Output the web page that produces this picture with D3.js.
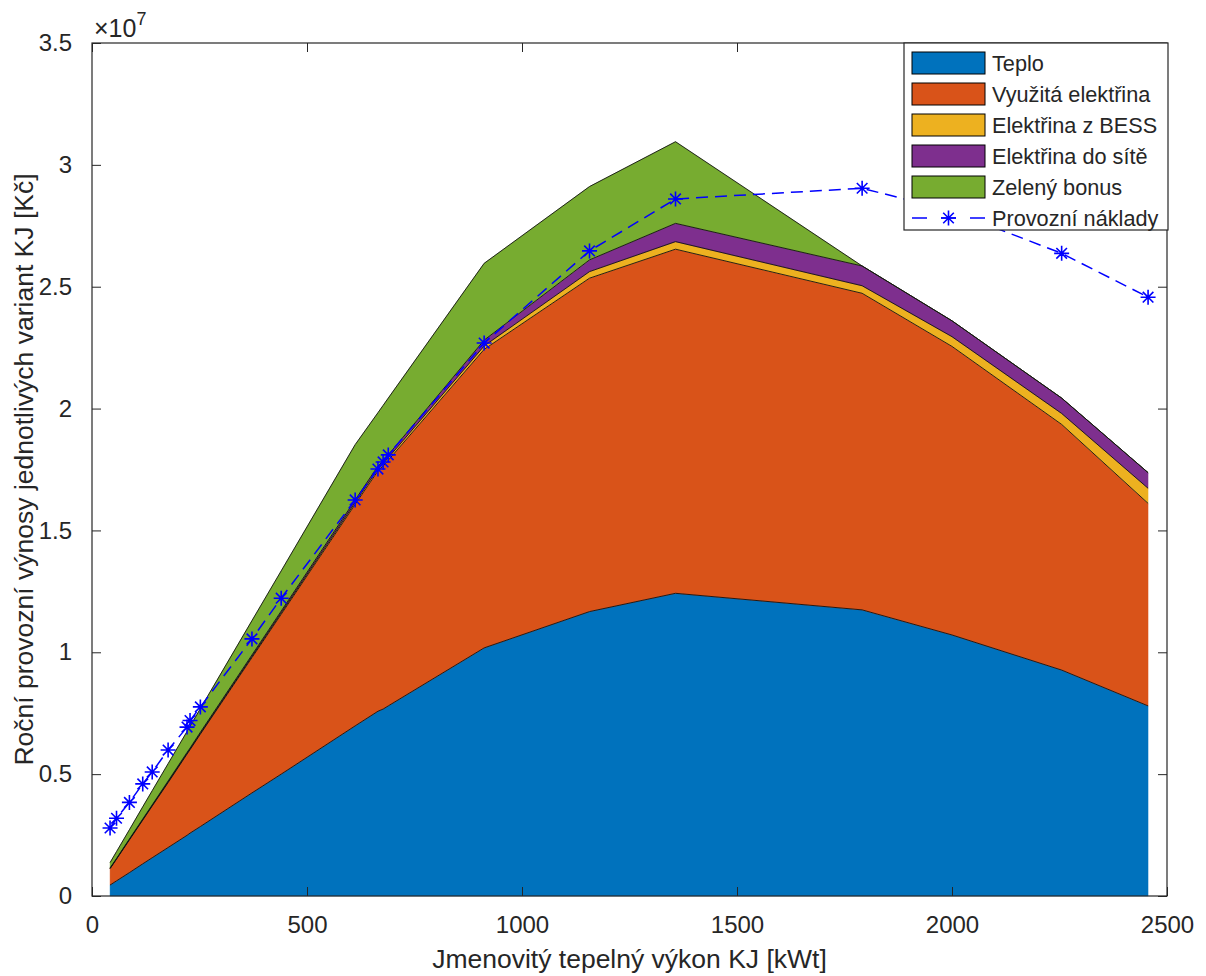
<!DOCTYPE html>
<html>
<head>
<meta charset="utf-8">
<script src="https://cdn.jsdelivr.net/npm/d3@7"></script>
<style>
  html, body { margin: 0; padding: 0; background: #fff; }
  svg { display: block; font-family: "Liberation Sans", Arial, Helvetica, sans-serif; }
</style>
</head>
<body>
<svg id="chart" width="1206" height="976"></svg>
<script>
// ---- data (Kč) ----
const vykon = [42, 57, 87, 118, 140, 177, 221, 228, 252, 372, 440, 612, 665, 677, 689, 912, 1157, 1357, 1791, 2000, 2255, 2456];
const teplo = [0.45e6, 0.62e6, 0.96e6, 1.32e6, 1.57e6, 1.99e6, 2.49e6, 2.58e6, 2.85e6, 4.23e6, 5.0e6, 6.98e6, 7.58e6, 7.67e6, 7.8e6, 10.18e6, 11.67e6, 12.42e6, 11.74e6, 10.71e6, 9.27e6, 7.8e6];
const vyuzitaElektrina = [0.67e6, 0.89e6, 1.34e6, 1.79e6, 2.12e6, 2.66e6, 3.33e6, 3.42e6, 3.79e6, 5.55e6, 6.56e6, 9.09e6, 9.86e6, 9.97e6, 10.08e6, 12.25e6, 13.68e6, 14.12e6, 12.99e6, 11.84e6, 10.08e6, 8.31e6];
const elektrinaBESS = [0.01e6, 0.01e6, 0.02e6, 0.02e6, 0.02e6, 0.03e6, 0.03e6, 0.03e6, 0.03e6, 0.05e6, 0.06e6, 0.08e6, 0.09e6, 0.09e6, 0.1e6, 0.14e6, 0.27e6, 0.31e6, 0.31e6, 0.4e6, 0.45e6, 0.62e6];
const elektrinaSit = [0.02e6, 0.02e6, 0.02e6, 0.03e6, 0.03e6, 0.04e6, 0.04e6, 0.04e6, 0.05e6, 0.06e6, 0.07e6, 0.1e6, 0.11e6, 0.12e6, 0.12e6, 0.24e6, 0.48e6, 0.75e6, 0.81e6, 0.65e6, 0.63e6, 0.64e6];
const zelenyBonus = [0.22e6, 0.28e6, 0.38e6, 0.5e6, 0.58e6, 0.71e6, 0.86e6, 0.89e6, 0.97e6, 1.41e6, 1.65e6, 2.27e6, 2.19e6, 2.28e6, 2.33e6, 3.15e6, 3.01e6, 3.35e6, 0, 0, 0, 0];
const provozniNaklady = [2.79e6, 3.19e6, 3.84e6, 4.6e6, 5.09e6, 5.99e6, 6.93e6, 7.2e6, 7.76e6, 10.55e6, 12.22e6, 16.25e6, 17.52e6, 17.81e6, 18.1e6, 22.69e6, 26.47e6, 28.6e6, 29.04e6, 28.1e6, 26.37e6, 24.57e6];

const seriesNames = ["Teplo", "Využitá elektřina", "Elektřina z BESS", "Elektřina do sítě", "Zelený bonus"];
const lineName = "Provozní náklady";
const seriesColors = ["#0072BD", "#D95319", "#EDB120", "#7E2F8E", "#77AC30"];
const xTicks = [0, 500, 1000, 1500, 2000, 2500];
const yTicks = [0, 0.5e7, 1e7, 1.5e7, 2e7, 2.5e7, 3e7, 3.5e7];
const xLabel = "Jmenovitý tepelný výkon KJ [kWt]";
const yLabel = "Roční provozní výnosy jednotlivých variant KJ [Kč]";

// ---- layout ----
const svg = d3.select("#chart");
const L = 92, R = 1167, T = 43, B = 896;
const axisColor = "#262626";

const x = d3.scaleLinear().domain([0, 2500]).range([L, R]);
const y = d3.scaleLinear().domain([0, 3.5e7]).range([B, T]);

// table for stack
const seriesArrays = [teplo, vyuzitaElektrina, elektrinaBESS, elektrinaSit, zelenyBonus];
const table = vykon.map((v, i) => {
  const row = { x: v };
  seriesNames.forEach((n, k) => row[n] = seriesArrays[k][i]);
  return row;
});
const stacked = d3.stack().keys(seriesNames)(table);

const area = d3.area()
  .x(d => x(d.data.x))
  .y0(d => y(d[0]))
  .y1(d => y(d[1]));
const topLine = d3.line()
  .x(d => x(d.data.x))
  .y(d => y(d[1]));

const gArea = svg.append("g");
gArea.selectAll("path.fill")
  .data(stacked)
  .join("path")
  .attr("class", "fill")
  .attr("d", area)
  .attr("fill", (d, i) => seriesColors[i])
  .attr("stroke", (d, i) => seriesColors[i])
  .attr("stroke-width", 0.4);
gArea.selectAll("path.edge")
  .data(stacked)
  .join("path")
  .attr("class", "edge")
  .attr("d", topLine)
  .attr("fill", "none")
  .attr("stroke", "#111")
  .attr("stroke-width", 0.9)
  .attr("stroke-linejoin", "round");

// line
const lineGen = d3.line().x((d, i) => x(vykon[i])).y(d => y(d));
svg.append("path")
  .datum(provozniNaklady)
  .attr("d", lineGen)
  .attr("fill", "none")
  .attr("stroke", "#0000FF")
  .attr("stroke-width", 1.5)
  .attr("stroke-dasharray", "12,7");

function asterisk(g, cx, cy, r) {
  const d = r * Math.SQRT1_2;
  g.append("path")
    .attr("d", `M${cx - r},${cy}L${cx + r},${cy}M${cx},${cy - r}L${cx},${cy + r}` +
      `M${cx - d},${cy - d}L${cx + d},${cy + d}M${cx - d},${cy + d}L${cx + d},${cy - d}`)
    .attr("stroke", "#0000FF")
    .attr("stroke-width", 1.6)
    .attr("fill", "none");
}
const markers = svg.append("g");
provozniNaklady.forEach((v, i) => asterisk(markers, x(vykon[i]), y(v), 7.5));

// axes box
svg.append("rect")
  .attr("x", L).attr("y", T).attr("width", R - L).attr("height", B - T)
  .attr("fill", "none").attr("stroke", axisColor).attr("stroke-width", 1.2);

const xAxisB = d3.axisBottom(x).tickValues(xTicks).tickSizeInner(-9).tickSizeOuter(0).tickPadding(20).tickFormat(d3.format("d"));
const gx = svg.append("g").attr("transform", `translate(0,${B})`).call(xAxisB);
gx.select(".domain").remove();
gx.selectAll("line").attr("stroke", axisColor);
gx.selectAll("text").attr("fill", axisColor).attr("font-size", 24).attr("font-family", "Liberation Sans, Arial, sans-serif");

const xAxisT = d3.axisTop(x).tickValues(xTicks).tickSizeInner(-9).tickSizeOuter(0).tickFormat("");
const gxt = svg.append("g").attr("transform", `translate(0,${T})`).call(xAxisT);
gxt.select(".domain").remove();
gxt.selectAll("line").attr("stroke", axisColor);

const yAxisL = d3.axisLeft(y).tickValues(yTicks).tickSizeInner(-9).tickSizeOuter(0).tickPadding(20)
  .tickFormat(d => d3.format("~g")(d / 1e7));
const gy = svg.append("g").attr("transform", `translate(${L},0)`).call(yAxisL);
gy.select(".domain").remove();
gy.selectAll("line").attr("stroke", axisColor);
gy.selectAll("text").attr("fill", axisColor).attr("font-size", 24).attr("font-family", "Liberation Sans, Arial, sans-serif");

const yAxisR = d3.axisRight(y).tickValues(yTicks).tickSizeInner(-9).tickSizeOuter(0).tickFormat("");
const gyr = svg.append("g").attr("transform", `translate(${R},0)`).call(yAxisR);
gyr.select(".domain").remove();
gyr.selectAll("line").attr("stroke", axisColor);

// exponent
const ex = svg.append("text").attr("x", 94).attr("y", 37).attr("fill", axisColor).attr("font-size", 25);
ex.append("tspan").text("×10");
ex.append("tspan").attr("dy", -12).attr("font-size", 18).text("7");

// axis labels
svg.append("text")
  .attr("x", (L + R) / 2).attr("y", 968)
  .attr("text-anchor", "middle").attr("fill", axisColor).attr("font-size", 26.5)
  .text(xLabel);
svg.append("text")
  .attr("transform", `translate(33,${(T + B) / 2}) rotate(-90)`)
  .attr("text-anchor", "middle").attr("fill", axisColor).attr("font-size", 26.5)
  .text(yLabel);

// legend
const lg = svg.append("g");
const lx = 904, ly = 43, lw = 264, lh = 187, rowH = 31;
lg.append("rect").attr("x", lx).attr("y", ly).attr("width", lw).attr("height", lh)
  .attr("fill", "#fff").attr("stroke", axisColor).attr("stroke-width", 1.2);
seriesNames.forEach((n, i) => {
  const cy = ly + 20 + i * rowH;
  lg.append("rect").attr("x", 912).attr("y", cy - 11).attr("width", 73).attr("height", 22)
    .attr("fill", seriesColors[i]).attr("stroke", "#000").attr("stroke-width", 1);
  lg.append("text").attr("x", 992).attr("y", cy).attr("dy", "0.35em")
    .attr("font-size", 21.7).attr("fill", axisColor).text(n);
});
{
  const cy = ly + 20 + 5 * rowH;
  lg.append("line").attr("x1", 912).attr("x2", 985).attr("y1", cy).attr("y2", cy)
    .attr("stroke", "#0000FF").attr("stroke-width", 1.5).attr("stroke-dasharray", "15,14");
  asterisk(lg, 948.5, cy, 7.5);
  lg.append("text").attr("x", 992).attr("y", cy).attr("dy", "0.35em")
    .attr("font-size", 21.7).attr("fill", axisColor).text(lineName);
}
</script>
</body>
</html>
